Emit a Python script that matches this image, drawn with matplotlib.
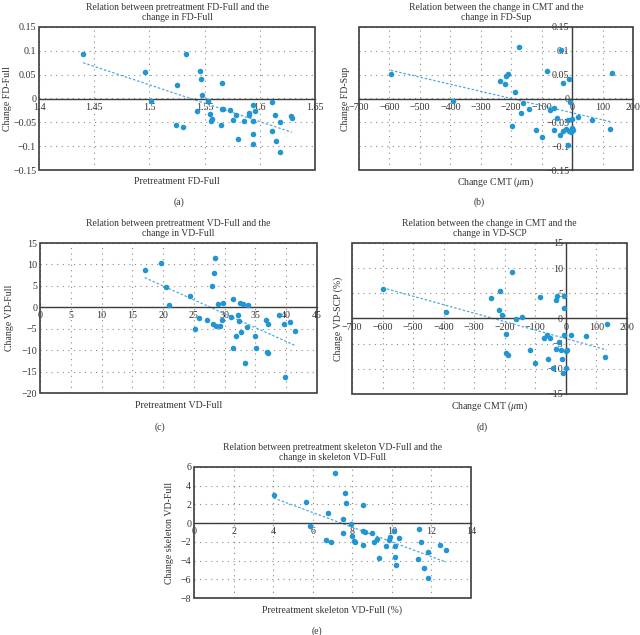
import numpy as np
import matplotlib
matplotlib.use('Agg')
import matplotlib.pyplot as plt
from matplotlib.patches import Rectangle
from matplotlib.ticker import FuncFormatter

plt.rcParams['font.family'] = ['Liberation Serif', 'DejaVu Serif']
plt.rcParams['mathtext.fontset'] = 'stix'

# (a) pretreatment FD-Full vs change in FD-Full
a_x = [1.440, 1.496, 1.501, 1.525, 1.533, 1.524, 1.530, 1.543, 1.546, 1.547,
       1.548, 1.553, 1.555, 1.556, 1.557, 1.566, 1.566, 1.567, 1.565, 1.573,
       1.576, 1.578, 1.580, 1.586, 1.590, 1.590, 1.594, 1.594, 1.594, 1.594,
       1.596, 1.611, 1.614, 1.611, 1.615, 1.618, 1.618, 1.628, 1.629]
a_y = [0.094, 0.056, -0.006, 0.028, 0.093, -0.056, -0.059, -0.026, 0.058, 0.041,
       0.007, -0.005, -0.033, -0.048, -0.044, 0.033, -0.021, -0.023, -0.056, -0.024,
       -0.045, -0.034, -0.086, -0.048, -0.030, -0.035, -0.048, -0.014, -0.075, -0.096,
       -0.027, -0.008, -0.034, -0.068, -0.089, -0.049, -0.113, -0.036, -0.041]

# (b) change in CMT vs change in FD-Sup
b_x = [-596, -390, -174, -35, -84, -212, -216, -219, -237, -187,
       -30, -10, 131, -7, -160, -141, -169, -71, -60, 20,
       66, 125, -51, -13, -2, -196, -117, -98, -60, -40,
       -30, -19, -11, -4, 1, 3, -13]
b_y = [0.052, -0.006, 0.108, 0.102, 0.058, 0.052, 0.047, 0.030, 0.037, 0.013,
       0.033, 0.040, 0.054, -0.008, -0.009, -0.022, -0.031, -0.025, -0.019, -0.038,
       -0.045, -0.063, -0.040, -0.045, -0.044, -0.057, -0.066, -0.081, -0.067, -0.077,
       -0.068, -0.064, -0.068, -0.071, -0.061, -0.066, -0.097]

# (c) pretreatment VD-Full vs change in VD-Full
c_x = [17.0, 19.7, 20.5, 21.0, 24.4, 25.2, 25.8, 27.2, 28.0, 28.2,
       28.4, 28.1, 28.6, 29.2, 28.9, 29.8, 29.5, 31.0, 31.3, 31.4,
       31.8, 32.2, 32.4, 32.5, 32.7, 32.9, 33.3, 33.6, 33.8, 35.0,
       35.1, 36.7, 37.1, 36.9, 37.0, 38.9, 39.7, 39.8, 40.6, 41.4]
c_y = [8.8, 10.3, 4.8, 0.6, 2.6, -5.0, -2.6, -2.9, 5.0, 7.9,
       11.6, -4.0, -4.3, -4.3, 0.8, 0.9, -2.9, -2.2, 1.9, -9.4,
       -6.7, -1.9, -3.3, 1.0, -5.7, 0.8, -12.9, -4.6, 0.5, -6.8,
       -9.5, -2.9, -3.9, -10.4, -10.7, -1.7, -4.0, -16.2, -3.4, -5.6]

# (d) change in CMT vs change in VD-SCP
d_x = [-600, -392, -175, -245, -217, -218, -210, -195, -162, -143,
       -197, -191, -117, -100, -84, -71, -61, -52, -34, -29,
       -7, -5, -6, -24, -32, -17, -60, -42, -13, -11,
       3, 0, 1, 18, 65, 127, 133]
d_y = [5.9, 1.2, 9.3, 4.1, 5.5, 1.7, 0.7, -3.1, -0.1, 0.3,
       -6.8, -7.3, -6.2, -8.9, 4.3, -3.8, -3.3, -3.8, 3.7, 4.5,
       4.5, 2.1, -3.3, -4.7, -6.0, -6.3, -8.1, -9.9, -8.1, -10.9,
       -6.3, -6.5, -9.9, -3.3, -3.5, -7.7, -1.1]

# (e) pretreatment skeleton VD-Full vs change in skeleton VD-Full
e_x = [4.02, 5.66, 5.86, 6.75, 6.66, 6.93, 7.12, 7.54, 7.51, 7.63,
       7.66, 7.92, 8.00, 8.07, 8.15, 8.53, 8.56, 8.54, 8.66, 9.00,
       9.25, 9.08, 9.34, 9.69, 9.88, 9.93, 10.10, 10.14, 10.14, 10.19,
       10.34, 11.39, 11.47, 11.34, 11.61, 11.83, 11.81, 12.44, 12.75]
e_y = [3.05, 2.23, -0.28, 1.13, -1.84, -2.02, 5.35, 0.43, -1.06, 3.23,
       2.20, -0.14, -1.42, -1.88, -2.06, -2.30, 1.95, -0.89, -0.96, -1.10,
       -1.67, -2.06, -3.72, -2.45, -1.84, -1.49, -0.89, -2.48, -3.62, -4.47,
       -1.60, -0.60, -2.02, -3.79, -4.79, -3.12, -5.85, -2.34, -2.84]

W, H = 640, 635
DOT = '#2196d3'
TREND = '#4eaadd'
DARK = '#3c3c3c'
TXT = '#333333'


def fmt(v, pos):
    v = round(v, 6)
    if v == 0:
        return '0'
    return f'{v:g}'.replace('-', '\u2212')


def panel(box, x, y, xt, yt, title, xlabel, ylabel, ylab_off, tag, tag_xy, cross=False):
    l, t, r, b = box
    ax = fig.add_axes([l / W, 1 - b / H, (r - l) / W, (b - t) / H])
    ax.set_xlim(xt[0], xt[-1])
    ax.set_ylim(yt[0], yt[-1])
    ax.set_xticks(xt)
    ax.set_yticks(yt)
    ax.xaxis.set_major_formatter(FuncFormatter(fmt))
    ax.yaxis.set_major_formatter(FuncFormatter(fmt))
    ax.grid(True, color='#8a8a8a', linestyle=(0, (1, 4)), linewidth=0.8)
    ax.set_axisbelow(True)

    for s in ['top', 'right']:
        ax.spines[s].set_visible(False)
    ax.spines['bottom'].set_position(('data', 0))
    ax.spines['bottom'].set_color(DARK)
    ax.spines['bottom'].set_linewidth(1.0)
    if cross:
        ax.spines['left'].set_position(('data', 0))
        ax.spines['left'].set_color(DARK)
        ax.spines['left'].set_linewidth(1.0)
    else:
        ax.spines['left'].set_visible(False)
    ax.tick_params(length=0, labelsize=7.2, colors=TXT)
    ax.tick_params(axis='x', pad=3)
    ax.tick_params(axis='y', pad=2)
    ax.add_patch(Rectangle((0, 0), 1, 1, transform=ax.transAxes, fill=False,
                           edgecolor=DARK, linewidth=1.2, clip_on=False, zorder=5))

    ax.scatter(x, y, s=16, color=DOT, zorder=3, linewidths=0)
    k, c0 = np.polyfit(x, y, 1)
    xs = np.array([min(x), max(x)])
    ax.plot(xs, k * xs + c0, color=TREND, linestyle=(0, (2, 1.5)), linewidth=0.9, zorder=2)

    ax.set_title(title, fontsize=6.9, color=TXT, pad=5, linespacing=1.15)
    ax.annotate(xlabel, xy=(0.5, 0), xycoords='axes fraction', xytext=(0, -12),
                textcoords='offset pixels', ha='center', va='center', fontsize=7.1, color=TXT)
    ax.annotate(ylabel, xy=(0, 0.5), xycoords='axes fraction', xytext=(ylab_off, 0),
                textcoords='offset pixels', ha='center', va='center', rotation=90,
                fontsize=7.1, color=TXT)
    fig.text(tag_xy[0] / W, 1 - tag_xy[1] / H, tag, ha='center', va='center',
             fontsize=7.1, color=TXT)
    return ax


fig = plt.figure(figsize=(6.4, 6.35), dpi=100)

panel((39, 27, 315, 170), a_x, a_y, np.arange(1.4, 1.6501, 0.05), np.arange(-0.15, 0.1501, 0.05),
      'Relation between pretreatment FD-Full and the\nchange in FD-Full',
      'Pretreatment FD-Full', 'Change FD-Full', -31, '(a)', (179, 202))
panel((359, 27, 633, 170), b_x, b_y, np.arange(-700, 201, 100), np.arange(-0.15, 0.1501, 0.05),
      'Relation between the change in CMT and the\nchange in FD-Sup',
      r'Change CMT ($\mu$m)', 'Change FD-Sup', -14, '(b)', (479, 202), cross=True)
panel((40, 243, 317, 393), c_x, c_y, np.arange(0, 46, 5), np.arange(-20, 16, 5),
      'Relation between pretreatment VD-Full and the\nchange in VD-Full',
      'Pretreatment VD-Full', 'Change VD-Full', -30, '(c)', (160, 427))
panel((352, 243, 627, 394), d_x, d_y, np.arange(-700, 201, 100), np.arange(-15, 16, 5),
      'Relation between the change in CMT and the\nchange in VD-SCP',
      r'Change CMT ($\mu$m)', 'Change VD-SCP (%)', -14, '(d)', (482, 427), cross=True)
panel((194, 467, 471, 598), e_x, e_y, np.arange(0, 15, 2), np.arange(-8, 7, 2),
      'Relation between pretreatment skeleton VD-Full and the\nchange in skeleton VD-Full',
      'Pretreatment skeleton VD-Full (%)', 'Change skeleton VD-Full', -24, '(e)', (317, 631))

fig.savefig('out.png', dpi=100, facecolor='white')
